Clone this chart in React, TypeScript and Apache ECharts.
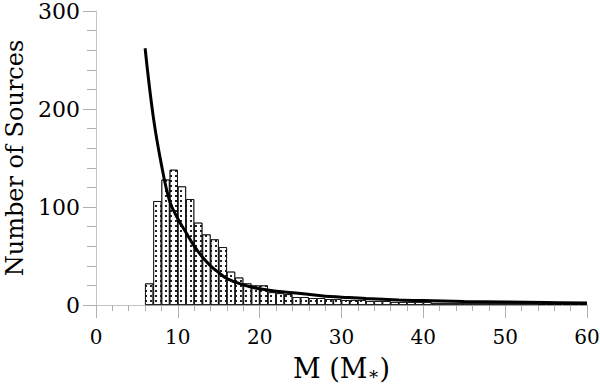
import React, { useEffect, useRef } from "react";
import * as echarts from "echarts";

// Histogram: left edges of 1-unit bins and counts
const binStarts = [6, 7, 8, 9, 10, 11, 12, 13, 14, 15, 16, 17, 18, 19, 20, 21, 22, 23, 24, 25, 26, 27, 28, 29, 30, 31, 32, 33, 34, 35, 36, 37, 38, 39, 40, 41, 42, 43, 44, 45, 46, 47, 48, 49, 50, 51, 52, 53, 54, 55, 56, 57, 58, 59];
const binCounts = [22, 106, 128, 138, 121, 108, 84, 72, 67, 59, 34, 28, 22, 20, 20, 13, 12, 11, 8, 8, 7, 7, 6, 6, 5, 5, 5, 4, 4, 4, 3, 3, 3, 3, 3, 2, 2, 2, 2, 2, 2, 2, 2, 2, 2, 2, 2, 2, 1, 1, 1, 1, 1, 1];
const binWidth = 1;

// Fitted curve
const curveM = [6, 7, 8, 9, 10, 11, 12, 13, 14, 15, 16, 18, 20, 22, 25, 28, 30, 33, 37, 40, 45, 50, 55, 60];
const curveN = [262, 192, 143, 106, 88, 74, 60, 49, 40, 33, 27, 20.5, 16.5, 14, 11.8, 9, 8, 6.6, 5.2, 4.5, 3.6, 3, 2.5, 2];

const xTicks = [0, 60, 10];
const yTicks = [0, 300, 100];

const FONT = "DejaVu Serif";

export default function App() {
  const ref = useRef<HTMLDivElement>(null);
  useEffect(() => {
    if (!ref.current) return;
    const chart = echarts.init(ref.current, null, { renderer: "svg" });
    const barData = binStarts.map((s, i) => [s + binWidth / 2, binCounts[i]]);
    const curveData = curveM.map((m, i) => [m, curveN[i]]);
    chart.setOption({
      animation: false,
      backgroundColor: "#fff",
      grid: { left: 96, right: 13, top: 11, bottom: 79, containLabel: false, outerBoundsMode: "none" },
      xAxis: {
        type: "value",
        min: xTicks[0],
        max: xTicks[1],
        interval: xTicks[2],
        name: "M (M{s|∗})",
        nameLocation: "middle",
        nameGap: 50,
        nameTextStyle: {
          fontFamily: FONT,
          fontSize: 27,
          color: "#000",
          rich: { s: { fontFamily: FONT, fontSize: 18, color: "#000", verticalAlign: "bottom", padding: [6, 0, 0, 0] } },
        },
        axisLine: { show: true, lineStyle: { color: "#c4c4c4", width: 1 } },
        axisTick: { show: true, length: 13, lineStyle: { color: "#b0b0b0" } },
        minorTick: { show: true, splitNumber: 5, length: 6, lineStyle: { color: "#b0b0b0" } },
        splitLine: { show: false },
        axisLabel: { fontFamily: FONT, fontSize: 20, color: "#000", margin: 22 },
      },
      yAxis: {
        type: "value",
        min: yTicks[0],
        max: yTicks[1],
        interval: yTicks[2],
        name: "Number of Sources",
        nameLocation: "middle",
        nameGap: 64,
        nameRotate: 90,
        nameTextStyle: { fontFamily: FONT, fontSize: 24, color: "#000" },
        axisLine: { show: true, lineStyle: { color: "#c4c4c4", width: 1 } },
        axisTick: { show: true, length: 13, lineStyle: { color: "#b0b0b0" } },
        minorTick: { show: true, splitNumber: 5, length: 9, lineStyle: { color: "#b0b0b0" } },
        splitLine: { show: false },
        axisLabel: { fontFamily: FONT, fontSize: 22, color: "#000", margin: 16 },
      },
      series: [
        {
          type: "bar",
          data: barData,
          barWidth: "100%",
          barGap: "0%",
          itemStyle: {
            color: "#fff",
            borderColor: "#000",
            borderWidth: 0.7,
            decal: {
              symbol: "rect",
              symbolSize: 1,
              color: "#222",
              backgroundColor: "#fff",
              dashArrayX: [1.3, 2.7],
              dashArrayY: [1.3, 2.7],
              rotation: 0,
            },
          },
          z: 2,
        },
        {
          type: "line",
          data: curveData,
          smooth: 0.4,
          showSymbol: false,
          symbol: "none",
          lineStyle: { color: "#000", width: 3 },
          z: 5,
        },
      ],
    });
    return () => chart.dispose();
  }, []);
  return (
    <div
      ref={ref}
      style={{ position: "fixed", left: 0, top: 0, width: 600, height: 384, background: "#fff" }}
    />
  );
}
